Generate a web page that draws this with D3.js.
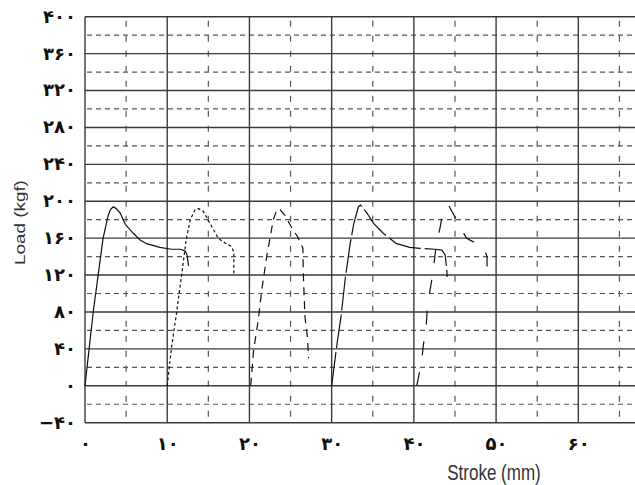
<!DOCTYPE html>
<html>
<head>
<meta charset="utf-8">
<script src="https://cdn.jsdelivr.net/npm/d3@7/dist/d3.min.js"></script>
<style>
  html, body { margin: 0; padding: 0; background: #fff; }
  svg { display: block; }
</style>
</head>
<body>
<svg id="chart" width="635" height="485"></svg>
<script>
// ---- data ----
const xTickValues = [0, 10, 20, 30, 40, 50, 60];
const xTickLabels = ["۰", "۱۰", "۲۰", "۳۰", "۴۰", "۵۰", "۶۰"];
const yTickValues = [400, 360, 320, 280, 240, 200, 160, 120, 80, 40, 0, -40];
const yTickLabels = ["۴۰۰", "۳۶۰", "۳۲۰", "۲۸۰", "۲۴۰", "۲۰۰", "۱۶۰", "۱۲۰", "۸۰", "۴۰", "۰", "−۴۰"];

const stroke1 = [0, 0.5, 1.0, 1.6, 2.2, 2.8, 3.1, 3.45, 3.8, 4.3, 4.9, 5.9, 6.7, 7.5, 9.1, 10.5, 11.6, 12.2, 12.4, 12.6];
const load1   = [0, 40, 80, 120, 160, 184, 191, 194, 192, 187, 175, 165, 158, 154, 150, 148, 148, 146, 142, 130];

const stroke2 = [10.0, 10.5, 11.15, 11.75, 12.3, 12.8, 13.4, 13.8, 14.4, 15.2, 16.2, 17.0, 17.8, 18.1, 18.1];
const load2   = [0, 40, 80, 120, 158, 180, 191, 192, 189, 176, 160, 155, 151, 145, 120];

const stroke3 = [20.15, 20.5, 21.1, 21.5, 22.1, 22.5, 22.9, 23.3, 23.6, 24.3, 25.1, 25.9, 26.5, 26.55, 26.75, 27.05, 27.2];
const load3   = [0, 38, 73, 104, 140, 160, 180, 190, 192, 185, 172, 161, 149, 122, 75, 53, 30];

const stroke4 = [30.0, 30.6, 31.15, 31.65, 32.25, 32.7, 33.25, 33.5, 34.3, 35.1, 36.3, 37.9, 39.5, 40.75, 42.6, 43.4, 43.8, 44.0, 44.05];
const load4   = [0, 42, 76, 116, 154, 176, 194, 196, 187, 176, 165, 154, 150, 149, 148, 147, 142, 127, 118];

const stroke5 = [40.35, 40.95, 41.15, 41.5, 41.6, 41.9, 42.2, 42.5, 42.7, 43.2, 43.5, 44.2, 45.0, 45.8, 46.4, 47.65, 48.45, 48.9, 48.9];
const load5   = [0, 27, 44, 64, 80, 100, 116, 136, 152, 172, 187, 196, 183, 169, 160, 154, 151, 140, 127];

const xLabel = "Stroke (mm)";
const yLabel = "Load (kgf)";

// ---- layout ----
const svg = d3.select("#chart");
const x = d3.scaleLinear().domain([0, 67]).range([85, 85 + 8.222 * 67]);
const y = d3.scaleLinear().domain([-40, 400]).range([422.7, 16.7]);

const grid = svg.append("g");
const solidY = d3.range(-40, 401, 40);
const dashedY = d3.range(-20, 400, 40);
const solidX = d3.range(0, 61, 10);
const dashedX = d3.range(5, 67, 10);

grid.selectAll(".hd").data(dashedY).join("line")
  .attr("x1", x(0)).attr("x2", x(67))
  .attr("y1", d => y(d)).attr("y2", d => y(d))
  .attr("stroke", "#555").attr("stroke-width", 1.2)
  .attr("stroke-dasharray", "5,4").attr("stroke-dashoffset", -2);
grid.selectAll(".vd").data(dashedX).join("line")
  .attr("x1", d => x(d)).attr("x2", d => x(d))
  .attr("y1", y(400)).attr("y2", y(-40))
  .attr("stroke", "#555").attr("stroke-width", 1.2)
  .attr("stroke-dasharray", "6,9").attr("stroke-dashoffset", -4);
grid.selectAll(".hs").data(solidY).join("line")
  .attr("x1", x(0)).attr("x2", x(67))
  .attr("y1", d => y(d)).attr("y2", d => y(d))
  .attr("stroke", "#3a3a3a").attr("stroke-width", 1.4);
grid.selectAll(".vs").data(solidX).join("line")
  .attr("x1", d => x(d)).attr("x2", d => x(d))
  .attr("y1", y(400)).attr("y2", y(-40))
  .attr("stroke", "#3a3a3a").attr("stroke-width", 1.4);

// ---- curves ----
const curves = [
  { xs: stroke1, ys: load1, dash: null },
  { xs: stroke2, ys: load2, dash: "3,2.5" },
  { xs: stroke3, ys: load3, dash: "8,6" },
  { xs: stroke4, ys: load4, dash: "34,4" },
  { xs: stroke5, ys: load5, dash: "14,17" }
];
const lineLinear = d3.line().x(d => x(d[0])).y(d => y(d[1])).curve(d3.curveLinear);
curves.forEach(c => {
  const pts = c.xs.map((v, i) => [v, c.ys[i]]);
  svg.append("path")
    .attr("d", lineLinear(pts))
    .attr("fill", "none")
    .attr("stroke", "#111")
    .attr("stroke-width", 1.2)
    .attr("stroke-linejoin", "round")
    .attr("stroke-dasharray", c.dash);
});

// ---- axes (labels only) ----
const yAxis = d3.axisLeft(y).tickValues(yTickValues)
  .tickFormat((d, i) => yTickLabels[i]).tickSize(0).tickPadding(9);
const gy = svg.append("g").attr("transform", `translate(${x(0)},0)`).call(yAxis);
gy.select(".domain").remove();
gy.selectAll("text")
  .attr("font-family", "'DejaVu Sans', sans-serif")
  .attr("font-weight", "bold")
  .attr("font-size", 18)
  .attr("fill", "#111")
  .attr("y", 0)
  .attr("dy", "0.3em");

const xAxis = d3.axisBottom(x).tickValues(xTickValues)
  .tickFormat((d, i) => xTickLabels[i]).tickSize(0).tickPadding(0);
const gx = svg.append("g").attr("transform", `translate(0,${y(-40)})`).call(xAxis);
gx.select(".domain").remove();
gx.selectAll("text")
  .attr("font-family", "'DejaVu Sans', sans-serif")
  .attr("font-weight", "bold")
  .attr("font-size", 18)
  .attr("fill", "#111")
  .attr("y", 22)
  .attr("dy", "0.3em");

// ---- axis titles ----
svg.append("text")
  .attr("transform", "translate(494,480) scale(1,1.28)")
  .attr("text-anchor", "middle")
  .attr("font-family", "'Liberation Sans', Arial, sans-serif")
  .attr("font-size", 17)
  .attr("fill", "#333")
  .text(xLabel);

svg.append("text")
  .attr("transform", "translate(25,222.5) rotate(-90) scale(1.3,1)")
  .attr("text-anchor", "middle")
  .attr("font-family", "'Liberation Sans', Arial, sans-serif")
  .attr("font-size", 14.5)
  .attr("fill", "#333")
  .text(yLabel);
</script>
</body>
</html>
